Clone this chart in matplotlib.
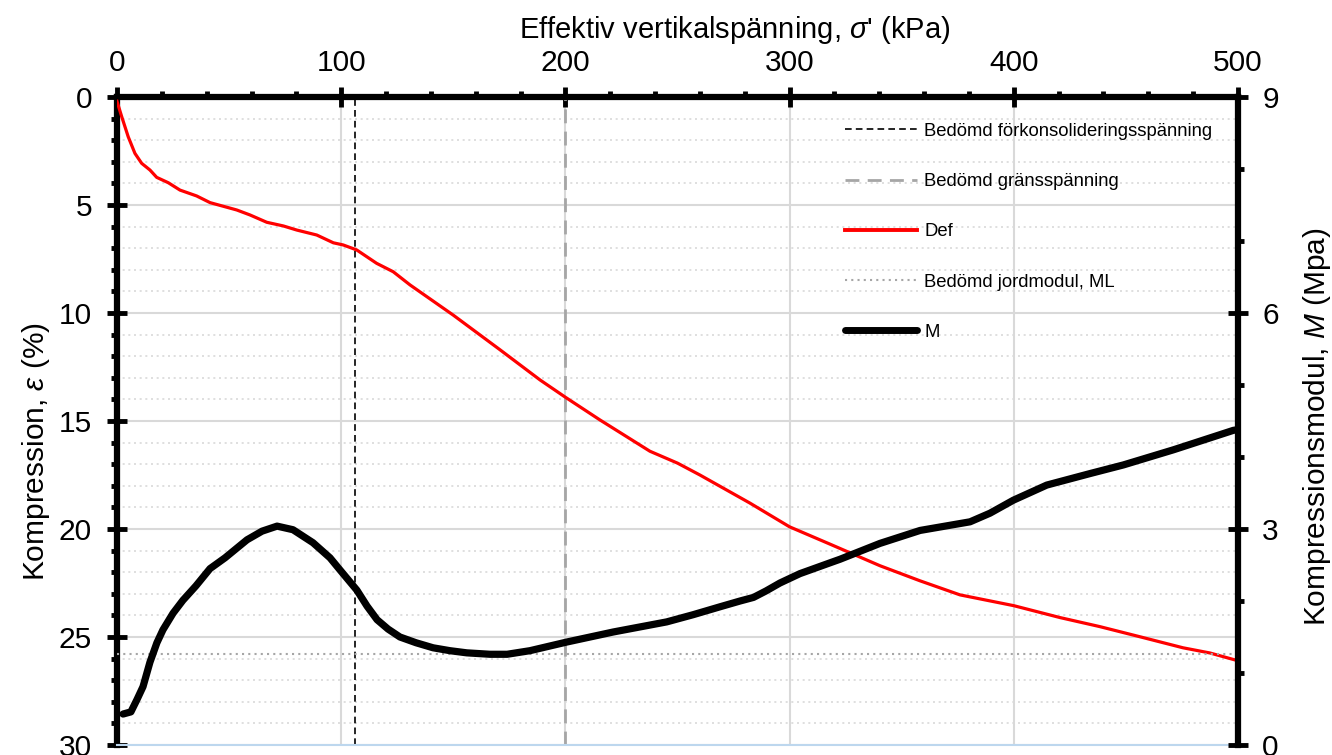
import matplotlib
matplotlib.use("Agg")
import matplotlib.pyplot as plt
from matplotlib.lines import Line2D
from matplotlib.ticker import MultipleLocator

plt.rcParams['font.family'] = ['Liberation Sans', 'DejaVu Sans']
plt.rcParams['mathtext.fontset'] = 'custom'
plt.rcParams['mathtext.rm'] = 'Liberation Sans'
plt.rcParams['mathtext.it'] = 'Liberation Sans:italic'

# ---- data ----
def_stress = [0, 2.1, 5.0, 8.0, 11.0, 14.7, 17.7, 22.9, 28.1, 35.5, 41.5, 53.4, 59.3, 66.8,
              74.2, 80.2, 89.1, 96.5, 100.9, 106.9, 115.8, 123.2, 130.7, 150, 170.8, 188.7,
              200, 215.4, 237.7, 250, 260, 282.3, 300, 318, 340.3, 358.2, 376, 400, 420.6,
              438.4, 456.3, 475.5, 487.5, 500]
def_strain = [0.2, 0.91, 1.84, 2.61, 3.07, 3.38, 3.72, 3.97, 4.31, 4.58, 4.89, 5.23, 5.46, 5.80,
              5.97, 6.16, 6.39, 6.75, 6.85, 7.08, 7.70, 8.09, 8.70, 10.1, 11.7, 13.1,
              13.9, 14.95, 16.4, 16.95, 17.5, 18.8, 19.9, 20.7, 21.7, 22.4, 23.05, 23.55, 24.1,
              24.52, 24.99, 25.5, 25.74, 26.1]

m_stress = [2.7, 6.2, 8.9, 11.6, 14.7, 17.8, 20.5, 25.0, 29.4, 35.2, 41.5, 48.2, 58.0, 64.7,
            71.4, 78.5, 87.4, 95.0, 99.5, 107.0, 111.5, 116.0, 120.9, 126.2, 133.4, 141.0,
            148.5, 156.0, 166.4, 174.0, 184.2, 200.6, 221.4, 245.2, 257, 269, 277.9, 283.9,
            289.5, 295.7, 304.6, 318, 322.5, 340.3, 358.2, 380.5, 389.4, 399.8, 414.7, 434,
            448.9, 471.2, 497.9, 500]
m_modulus = [0.43, 0.46, 0.63, 0.81, 1.15, 1.42, 1.60, 1.83, 2.01, 2.21, 2.45, 2.60, 2.85, 2.97,
             3.04, 2.99, 2.81, 2.60, 2.43, 2.15, 1.93, 1.74, 1.61, 1.50, 1.42, 1.35,
             1.31, 1.28, 1.26, 1.26, 1.31, 1.43, 1.57, 1.71, 1.81, 1.92, 2.00, 2.05,
             2.14, 2.25, 2.38, 2.53, 2.58, 2.80, 2.98, 3.10, 3.22, 3.40, 3.61, 3.77,
             3.89, 4.10, 4.37, 4.38]

precon_stress = 106.0
limit_stress = 200.0
ml_modulus = 1.27

labels = ["Bedömd förkonsolideringsspänning", "Bedömd gränsspänning", "Def",
          "Bedömd jordmodul, ML", "M"]

# ---- figure ----
W, H = 1332, 755
fig = plt.figure(figsize=(W / 100, H / 100), dpi=100)
L, R, T, B = 117, 1238, 97, 745
ax = fig.add_axes([L / W, 1 - B / H, (R - L) / W, (B - T) / H])
ax2 = ax.twinx()

grid_c = '#d9d9d9'
ax.set_xlim(0, 500)
ax.set_ylim(30, 0)
ax2.set_ylim(0, 9)

ax.xaxis.tick_top()
ax.xaxis.set_label_position('top')
ax.xaxis.set_major_locator(MultipleLocator(100))
ax.xaxis.set_minor_locator(MultipleLocator(20))
ax.yaxis.set_major_locator(MultipleLocator(5))
ax.yaxis.set_minor_locator(MultipleLocator(1))
ax2.yaxis.set_major_locator(MultipleLocator(3))
ax2.yaxis.set_minor_locator(MultipleLocator(1))

ax.grid(True, which='major', axis='both', color=grid_c, lw=1.5, ls='-')
ax.grid(True, which='minor', axis='y', color=grid_c, lw=1.2, ls=(0, (1.2, 2.2)))
ax.set_axisbelow(True)

tick_fs = 21.5
ax.tick_params(axis='both', which='major', direction='inout', length=14, width=3.5,
               labelsize=tick_fs, color='black')
ax.tick_params(axis='x', which='major', pad=7.5)
ax.tick_params(axis='y', which='major', pad=11)
ax.tick_params(axis='both', which='minor', direction='out', length=4, width=3.5, color='black')
ax2.tick_params(axis='y', which='major', direction='inout', length=14, width=3.5,
                labelsize=tick_fs, pad=10.5)
ax2.tick_params(axis='y', which='minor', direction='out', length=4, width=3.5)

for s in ['left', 'top']:
    ax.spines[s].set_linewidth(4.5)
ax.spines['right'].set_visible(False)
ax.spines['bottom'].set_color('#bdd7ee')
ax.spines['bottom'].set_linewidth(1.5)
for s in ['left', 'top', 'bottom']:
    ax2.spines[s].set_visible(False)
ax2.spines['right'].set_linewidth(4.5)

# reference lines
ax.axvline(precon_stress, color='black', lw=1.2, ls=(0, (4, 2.5)), zorder=2)
ax.axvline(limit_stress, color='#a6a6a6', lw=2, ls=(0, (5, 3)), zorder=2)
ax2.axhline(ml_modulus, color='#a6a6a6', lw=1.5, ls=(0, (1, 2)), zorder=1)

ax.plot(def_stress, def_strain, color='red', lw=2.3, zorder=3)
ax2.plot(m_stress, m_modulus, color='black', lw=5.2, solid_capstyle='round',
         solid_joinstyle='round', zorder=4)

ax.set_xlabel(r"Effektiv vertikalspänning, $\sigma$' (kPa)", fontsize=21, labelpad=8)
ax.xaxis.label.set_x(0.551)
ax.set_ylabel(r"Kompression, $\varepsilon$ (%)", fontsize=21.5, labelpad=5)
ax.yaxis.label.set_y(0.4537)
ax2.set_ylabel(r"Kompressionsmodul, $M$ (Mpa)", fontsize=21.5, labelpad=16)
ax2.yaxis.label.set_y(0.4907)

handles = [
    Line2D([], [], color='black', lw=1.2, ls=(0, (4, 2.5))),
    Line2D([], [], color='#a6a6a6', lw=2, ls=(0, (5, 3))),
    Line2D([], [], color='red', lw=2.8),
    Line2D([], [], color='#a6a6a6', lw=1.5, ls=(0, (1, 2))),
    Line2D([], [], color='black', lw=5, solid_capstyle='round'),
]
leg = ax2.legend(handles, labels, loc='upper left', bbox_to_anchor=(0.6494, 0.960),
                 frameon=False, fontsize=13.3, handlelength=3.9, handletextpad=0.38,
                 labelspacing=1.8, borderpad=0, borderaxespad=0)

fig.savefig('out.png', dpi=100)
